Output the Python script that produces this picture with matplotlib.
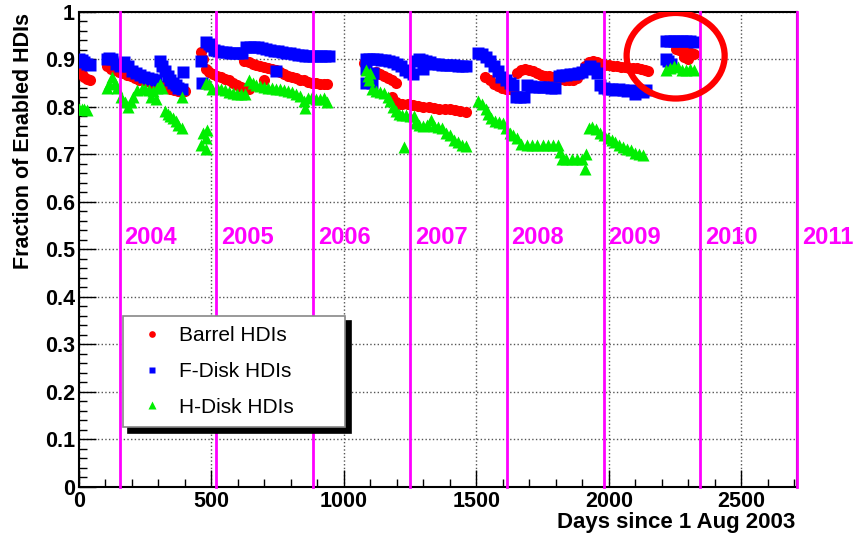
import numpy as np
import matplotlib.pyplot as plt
from matplotlib.patches import Ellipse
from matplotlib.ticker import MultipleLocator

# Barrel HDIs (red circles)
barrel_days = [0, 10, 20, 30, 40,
               105, 120, 135, 150, 165, 180, 195, 210, 225, 240, 255, 270, 285, 300, 315, 330, 345, 360, 375, 390, 400,
               462, 470, 481, 490, 505, 520, 535, 550, 565, 580, 595, 610, 625, 640,
               624, 640, 655, 670, 685, 700, 715, 730, 745, 760, 775, 790, 805, 820, 835, 850, 865, 880, 895, 910, 925, 936, 699,
               1075, 1120, 1135, 1150, 1165, 1180, 1195, 1180, 1195, 1207,
               1220, 1240, 1260, 1280, 1300, 1320, 1340, 1360, 1380, 1400, 1420, 1440, 1460,
               1534, 1550, 1565, 1580, 1595, 1610, 1625, 1640, 1655, 1670, 1685, 1700, 1715, 1730, 1745, 1760, 1775,
               1790, 1805, 1820, 1835, 1850, 1865, 1880, 1895, 1910, 1925, 1940, 1955, 1970, 1985, 2000, 2015, 2030,
               2045, 2060, 2075, 2090, 2105, 2120, 2135, 2147,
               2252, 2265, 2280, 2295, 2310, 2323, 2285, 2300]
barrel_vals = [0.872, 0.868, 0.862, 0.858, 0.855,
               0.885, 0.88, 0.876, 0.872, 0.87, 0.867, 0.864, 0.86, 0.857, 0.855, 0.853, 0.85, 0.848, 0.846, 0.843, 0.84, 0.838, 0.835, 0.832, 0.83, 0.832,
               0.914, 0.9, 0.88, 0.872, 0.868, 0.865, 0.862, 0.858, 0.855, 0.85, 0.846, 0.842, 0.838, 0.836,
               0.895, 0.893, 0.89, 0.888, 0.886, 0.884, 0.882, 0.879, 0.876, 0.872, 0.868, 0.865, 0.862, 0.86, 0.857, 0.855, 0.852, 0.85, 0.849, 0.848, 0.848, 0.847, 0.857,
               0.892, 0.872, 0.868, 0.864, 0.86, 0.855, 0.85, 0.82, 0.81, 0.805,
               0.806, 0.805, 0.804, 0.802, 0.8, 0.799, 0.798, 0.796, 0.795, 0.794, 0.792, 0.79, 0.788,
               0.863, 0.855, 0.848, 0.843, 0.84, 0.838, 0.836, 0.835, 0.87, 0.876, 0.88, 0.878, 0.874, 0.87, 0.867, 0.865, 0.864,
               0.862, 0.86, 0.858, 0.857, 0.856, 0.857, 0.86, 0.87, 0.885, 0.893, 0.895, 0.893, 0.89, 0.888, 0.887, 0.886, 0.885,
               0.884, 0.883, 0.882, 0.882, 0.881, 0.88, 0.878, 0.875,
               0.922, 0.92, 0.918, 0.915, 0.912, 0.91, 0.905, 0.9]

# F-Disk HDIs (blue squares)
fdisk_days = [0, 10, 20, 30, 40,
              105, 115, 125, 140, 155, 170, 185, 200, 215, 230, 245, 260, 275, 290, 305, 315, 325, 335, 345, 355, 365, 375, 387, 391,
              462, 466, 480, 490, 500, 511, 525, 540, 555, 570, 585, 600, 615, 630, 645, 660, 675, 690, 705, 720, 735, 750,
              765, 780, 795, 810, 825, 840, 855, 870, 885, 900, 915, 930, 944, 744,
              1083, 1083, 1083, 1095, 1105, 1110, 1110, 1125, 1140, 1155, 1170, 1185, 1200, 1215, 1230, 1245, 1260, 1270,
              1282, 1295, 1310, 1325, 1340, 1355, 1370, 1385, 1400, 1415, 1430, 1445, 1462, 1300,
              1507, 1520, 1535, 1550, 1565, 1580, 1594, 1610, 1625, 1640, 1650, 1665, 1680, 1690, 1705, 1720, 1735, 1750,
              1765, 1780, 1797, 1810, 1825, 1840, 1855, 1870, 1885, 1900, 1915, 1930, 1945, 1955, 1965, 1980, 1996, 2010,
              2025, 2040, 2055, 2070, 2085, 2100, 2115, 2130, 2140,
              2214, 2230, 2245, 2260, 2275, 2290, 2305, 2320, 2214, 2225, 2235]
fdisk_vals = [0.9, 0.897, 0.893, 0.89, 0.888,
              0.9, 0.903, 0.9, 0.89, 0.885, 0.893, 0.885, 0.875, 0.87, 0.866, 0.863, 0.86, 0.858, 0.857, 0.895, 0.885, 0.875, 0.865, 0.857, 0.85, 0.845, 0.84, 0.836, 0.872,
              0.895, 0.85, 0.935, 0.932, 0.928, 0.92, 0.918, 0.915, 0.914, 0.913, 0.912, 0.912, 0.913, 0.925, 0.926, 0.926, 0.925, 0.924, 0.922, 0.92, 0.918, 0.916,
              0.915, 0.913, 0.912, 0.91, 0.909, 0.908, 0.907, 0.907, 0.906, 0.906, 0.906, 0.906, 0.906, 0.874,
              0.9, 0.88, 0.85, 0.9, 0.85, 0.87, 0.9, 0.9, 0.898, 0.897, 0.895, 0.893, 0.89, 0.885, 0.878, 0.872, 0.868, 0.895,
              0.9, 0.897, 0.895, 0.893, 0.89, 0.889, 0.888, 0.888, 0.887, 0.887, 0.886, 0.886, 0.885, 0.88,
              0.912, 0.91, 0.905, 0.895, 0.885, 0.875, 0.863, 0.855, 0.85, 0.845, 0.82, 0.82, 0.82, 0.845, 0.843, 0.842, 0.842, 0.842,
              0.841, 0.84, 0.84, 0.865, 0.866, 0.867, 0.868, 0.869, 0.87, 0.873, 0.88, 0.885, 0.882, 0.87, 0.845, 0.84, 0.838, 0.837,
              0.835, 0.836, 0.835, 0.832, 0.834, 0.826, 0.832, 0.83, 0.835,
              0.938, 0.938, 0.938, 0.938, 0.938, 0.938, 0.938, 0.936, 0.9, 0.895, 0.89]

# H-Disk HDIs (green triangles)
hdisk_days = [0, 10, 20, 30,
              105, 115, 125, 135, 145, 160, 175, 185, 195, 205, 220, 237, 250, 265, 280, 295, 305, 315,
              325, 335, 345, 355, 365, 375, 387, 270, 290, 390,
              462, 470, 478, 485, 480,
              481, 490, 504, 520, 535, 550, 565, 580, 595, 610, 625, 640, 655, 670, 685, 700, 715, 730, 745, 760,
              775, 790, 805, 820, 835, 850, 852, 865, 880, 895, 910, 925, 936,
              1083, 1090, 1095, 1100, 1105, 1120, 1135, 1150, 1165, 1175, 1185, 1195, 1207, 1220, 1235, 1250, 1265, 1226,
              1270, 1285, 1300, 1315, 1330, 1340, 1355, 1370, 1385, 1400, 1415, 1430, 1445, 1462,
              1507, 1520, 1535, 1545, 1555, 1570, 1585, 1600, 1612, 1625, 1640, 1655, 1670, 1690, 1710, 1730, 1750,
              1770, 1790, 1808, 1815, 1825, 1840, 1860, 1880, 1900, 1910, 1915, 1925, 1935, 1950, 1965, 1980, 1995,
              2010, 2025, 2040, 2055, 2070, 2085, 2100, 2115, 2130,
              2214, 2230, 2245, 2260, 2275, 2290, 2305, 2320]
hdisk_vals = [0.796, 0.796, 0.795, 0.793,
              0.84, 0.848, 0.862, 0.85, 0.84, 0.82, 0.81, 0.8, 0.81, 0.82, 0.835, 0.838, 0.838, 0.835, 0.832, 0.84, 0.848, 0.84,
              0.79, 0.785, 0.78, 0.775, 0.77, 0.762, 0.756, 0.82, 0.815, 0.82,
              0.72, 0.745, 0.735, 0.75, 0.71,
              0.85, 0.848, 0.838, 0.84, 0.838, 0.835, 0.83, 0.828, 0.826, 0.826, 0.826, 0.857, 0.85, 0.845, 0.843, 0.842, 0.84, 0.839, 0.838, 0.837,
              0.835, 0.833, 0.83, 0.826, 0.822, 0.812, 0.798, 0.818, 0.82, 0.815, 0.815, 0.818, 0.81,
              0.878, 0.865, 0.855, 0.87, 0.838, 0.832, 0.83, 0.828, 0.82, 0.812, 0.8, 0.79, 0.784, 0.782, 0.782, 0.78, 0.78, 0.714,
              0.766, 0.762, 0.76, 0.762, 0.772, 0.76, 0.758, 0.756, 0.745, 0.74, 0.73, 0.725, 0.72, 0.718,
              0.812, 0.805, 0.795, 0.785, 0.775, 0.77, 0.768, 0.765, 0.755, 0.745, 0.74, 0.735, 0.722, 0.72, 0.72, 0.72, 0.72,
              0.72, 0.72, 0.72, 0.705, 0.69, 0.69, 0.69, 0.69, 0.69, 0.668, 0.7, 0.755, 0.758, 0.752, 0.745, 0.74, 0.735,
              0.73, 0.725, 0.72, 0.715, 0.71, 0.708, 0.703, 0.7, 0.698,
              0.878, 0.882, 0.885, 0.883, 0.878, 0.878, 0.88, 0.876]

# 1 Jan of each year, in days since 1 Aug 2003
years = ['2004', '2005', '2006', '2007', '2008', '2009', '2010', '2011']
year_days = [153, 519, 884, 1249, 1614, 1980, 2345, 2710]

MAGENTA = '#ff00ff'
FONT = 'Liberation Sans'

fig = plt.figure(figsize=(8.63, 5.36), dpi=100)
ax = fig.add_axes([0.0915, 0.0915, 0.832, 0.887])

ax.plot(barrel_days, barrel_vals, 'o', color='#ff0000', ms=8, mec='none', label='Barrel HDIs', zorder=3)
ax.plot(fdisk_days, fdisk_vals, 's', color='#0000ff', ms=8, mec='none', label='F-Disk HDIs', zorder=4)
ax.plot(hdisk_days, hdisk_vals, '^', color='#00ee00', ms=8.5, mec='none', label='H-Disk HDIs', zorder=5)

for yr, d in zip(years, year_days):
    ax.axvline(d, color=MAGENTA, lw=2, zorder=6, clip_on=False)
    ax.text(d + 18, 0.525, yr, color=MAGENTA, fontsize=17, fontweight='bold',
            family=FONT, va='center', ha='left', clip_on=False)

# circle around the last points
ax.add_patch(Ellipse((2252, 0.907), 370, 0.18, fill=False, ec='#ff0000', lw=4.5, zorder=7))

ax.set_xlim(0, 2710)
ax.set_ylim(0, 1)
ax.xaxis.set_minor_locator(MultipleLocator(100))
ax.yaxis.set_minor_locator(MultipleLocator(0.02))
ax.tick_params(which='both', direction='in', top=False, right=False)
ax.tick_params(which='major', length=12, width=1, pad=3)
ax.tick_params(which='minor', length=6, width=1)
ax.set_xticks([0, 500, 1000, 1500, 2000, 2500])
ax.set_xticklabels(['0', '500', '1000', '1500', '2000', '2500'])
ax.set_yticks(np.arange(0, 1.01, 0.1))
ax.set_yticklabels(['0', '0.1', '0.2', '0.3', '0.4', '0.5', '0.6', '0.7', '0.8', '0.9', '1'])
for lab in ax.get_xticklabels() + ax.get_yticklabels():
    lab.set_fontfamily(FONT)
    lab.set_fontweight('bold')
    lab.set_fontsize(15.5)
ax.grid(True, which='major', ls=':', color='#555555', lw=1)
for sp in ax.spines.values():
    sp.set_linewidth(1.5)

fig.text(0.027, 0.975, 'Fraction of Enabled HDIs', rotation=90, ha='center', va='top',
         fontsize=15.5, family=FONT, fontweight='bold')
fig.text(0.921, 0.025, 'Days since 1 Aug 2003', ha='right', va='center',
         fontsize=16, family=FONT, fontweight='bold')

leg = ax.legend(loc='upper left', bbox_to_anchor=(0.061, 0.36, 0.31, 0.0), mode='expand',
                frameon=True, fancybox=False,
                shadow={'color': 'black', 'alpha': 1, 'ox': 4, 'oy': -4}, edgecolor='#888888',
                markerscale=0.6, prop={'family': FONT, 'size': 15}, handletextpad=0.4,
                handlelength=1.8, borderpad=0.5, labelspacing=0.8, borderaxespad=0)
leg.get_frame().set_linewidth(1.2)
leg.set_zorder(10)

fig.savefig('out.png', dpi=100)
